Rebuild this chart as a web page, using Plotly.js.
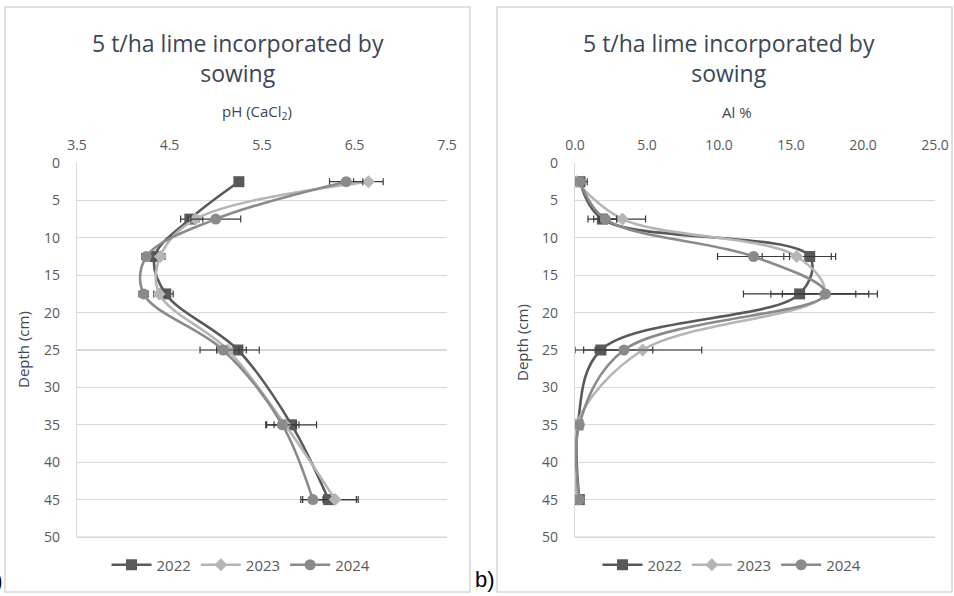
<!DOCTYPE html>
<html>
<head>
<meta charset="utf-8">
<script src="https://cdn.plot.ly/plotly-3.0.1.min.js"></script>
<style>
  html, body { margin: 0; padding: 0; background: #ffffff; }
  #chart { width: 954px; height: 596px; }
</style>
</head>
<body>
<div id="chart"></div>
<script>
// ---------- data ----------
const years = ["2022", "2023", "2024"];
const depths = [2.5, 7.5, 12.5, 17.5, 25, 35, 45];

const ph2022 = [5.25, 4.72, 4.34, 4.46, 5.24, 5.82, 6.22];
const ph2023 = [6.65, 4.78, 4.40, 4.39, 5.13, 5.75, 6.29];
const ph2024 = [6.41, 5.00, 4.25, 4.22, 5.08, 5.72, 6.05];
const ph2022Err = [0.0, 0.10, 0.05, 0.08, 0.23, 0.27, 0.30];
const ph2023Err = [0.16, 0.08, 0.05, 0.06, 0.12, 0.12, 0.25];
const ph2024Err = [0.18, 0.27, 0.05, 0.05, 0.25, 0.18, 0.11];

const al2022 = [0.35, 1.9, 16.3, 15.6, 1.8, 0.2, 0.3];
const al2023 = [0.1, 3.3, 15.4, 17.3, 4.7, 0.1, 0.2];
const al2024 = [0.35, 2.1, 12.4, 17.4, 3.4, 0.3, 0.3];
const al2022Err = [0.5, 1.0, 1.8, 3.9, 1.8, 0.0, 0.0];
const al2023Err = [0.2, 1.6, 2.4, 3.7, 4.1, 0.0, 0.0];
const al2024Err = [0.3, 0.8, 2.5, 3.0, 2.0, 0.0, 0.0];

const phTicks = [3.5, 4.5, 5.5, 6.5, 7.5];
const alTicks = [0, 5, 10, 15, 20, 25];
const depthTicks = [0, 5, 10, 15, 20, 25, 30, 35, 40, 45, 50];

const titleText = "5 t/ha lime incorporated by<br>sowing";
const phTitle = "pH (CaCl<sub>2</sub>)";
const alTitle = "Al %";
const depthTitle = "Depth (cm)";

// ---------- styles ----------
const W = 954, H = 596;
const px = x => x / W;
const py = y => 1 - y / H;
const styles = {
  "2022": { color: "#595959", symbol: "square", size: 11 },
  "2023": { color: "#b5b5b5", symbol: "diamond", size: 10 },
  "2024": { color: "#8a8a8a", symbol: "circle", size: 11 }
};
const fontFam = "Open Sans, Noto Sans, sans-serif";
const tickColor = "#595959";
const titleColor = "#3b4656";
const gridColor = "#d9d9d9";

function mk(xvals, errs, year, xa, ya, leg) {
  const s = styles[year];
  return {
    type: "scatter", mode: "lines+markers",
    x: xvals, y: depths, name: year,
    xaxis: xa, yaxis: ya, legend: leg,
    line: { color: s.color, width: 2.6, shape: "spline", smoothing: 1 },
    marker: { color: s.color, symbol: s.symbol, size: s.size },
    error_x: { type: "data", array: errs, visible: true, color: "#3a3a3a", thickness: 1.2, width: 3.5 }
  };
}

const traces = [
  mk(ph2022, ph2022Err, "2022", "x", "y", "legend"),
  mk(ph2023, ph2023Err, "2023", "x", "y", "legend"),
  mk(ph2024, ph2024Err, "2024", "x", "y", "legend"),
  mk(al2022, al2022Err, "2022", "x2", "y2", "legend2"),
  mk(al2023, al2023Err, "2023", "x2", "y2", "legend2"),
  mk(al2024, al2024Err, "2024", "x2", "y2", "legend2")
];

function xAxis(domain, range, ticks) {
  return {
    domain: domain, range: range, side: "top", tickvals: ticks,
    ticktext: ticks.map(v => v.toFixed(1)),
    showgrid: false, zeroline: false, showline: false, ticks: "",
    tickfont: { family: fontFam, size: 14, color: tickColor },
    ticklabelstandoff: 9, fixedrange: true
  };
}
function yAxis(domain, anchor) {
  return {
    domain: domain, range: [50, 0], tickvals: depthTicks, anchor: anchor,
    showgrid: true, gridcolor: gridColor, gridwidth: 1.3, zeroline: false,
    showline: true, linecolor: gridColor, linewidth: 1.3, ticks: "",
    tickfont: { family: fontFam, size: 14, color: tickColor },
    ticklabelstandoff: 13, fixedrange: true
  };
}
// bottom frame line of each plot: an overlaying bottom axis that only draws its line
function bottomLine(over, anchor, domain, range) {
  return {
    overlaying: over, anchor: anchor, side: "bottom", domain: domain, range: range,
    showline: true, linecolor: "#d3d3d3", linewidth: 1.5,
    showgrid: false, zeroline: false, showticklabels: false, ticks: "", fixedrange: true
  };
}

const yDom = [py(537), py(163)];
const xDom1 = [px(77), px(447)];
const xDom2 = [px(575), px(935)];
const layout = {
  width: W, height: H,
  margin: { l: 0, r: 0, t: 0, b: 0 },
  paper_bgcolor: "#ffffff", plot_bgcolor: "#ffffff",
  showlegend: true,
  xaxis: Object.assign(xAxis(xDom1, [3.5, 7.5], phTicks), { anchor: "y" }),
  yaxis: yAxis(yDom, "x"),
  xaxis2: Object.assign(xAxis(xDom2, [0, 25], alTicks), { anchor: "y2" }),
  yaxis2: yAxis(yDom, "x2"),
  xaxis3: bottomLine("x", "y", xDom1, [3.5, 7.5]),
  xaxis4: bottomLine("x2", "y2", xDom2, [0, 25]),
  legend: {
    orientation: "h", x: px(241), y: py(565), xanchor: "center", yanchor: "middle",
    font: { family: fontFam, size: 15, color: tickColor }, bgcolor: "rgba(0,0,0,0)",
    itemwidth: 40, tracegroupgap: 0
  },
  legend2: {
    orientation: "h", x: px(732), y: py(565), xanchor: "center", yanchor: "middle",
    font: { family: fontFam, size: 15, color: tickColor }, bgcolor: "rgba(0,0,0,0)",
    itemwidth: 40
  },
  shapes: [
    { type: "rect", xref: "paper", yref: "paper", x0: px(5), x1: px(470), y0: py(592), y1: py(7), line: { color: "#d6d6d6", width: 1.5 } },
    { type: "rect", xref: "paper", yref: "paper", x0: px(497), x1: px(952), y0: py(592), y1: py(7), line: { color: "#d6d6d6", width: 1.5 } },
    { type: "rect", xref: "paper", yref: "paper", x0: px(77), x1: px(447), y0: py(538), y1: py(536.5), line: { width: 0 }, fillcolor: "#d3d3d3" },
    { type: "rect", xref: "paper", yref: "paper", x0: px(575), x1: px(935), y0: py(538), y1: py(536.5), line: { width: 0 }, fillcolor: "#d3d3d3" }
  ],
  annotations: [
    { text: titleText, xref: "paper", yref: "paper", x: px(238), y: py(58), xanchor: "center", yanchor: "middle", showarrow: false,
      font: { family: fontFam, size: 23, color: titleColor }, align: "center" },
    { text: titleText, xref: "paper", yref: "paper", x: px(729), y: py(58), xanchor: "center", yanchor: "middle", showarrow: false,
      font: { family: fontFam, size: 23, color: titleColor }, align: "center" },
    { text: phTitle, xref: "paper", yref: "paper", x: px(257), y: py(112), xanchor: "center", yanchor: "middle", showarrow: false,
      font: { family: fontFam, size: 15, color: titleColor } },
    { text: alTitle, xref: "paper", yref: "paper", x: px(737), y: py(112), xanchor: "center", yanchor: "middle", showarrow: false,
      font: { family: fontFam, size: 15, color: titleColor } },
    { text: depthTitle, xref: "paper", yref: "paper", x: px(23), y: py(350), xanchor: "center", yanchor: "middle", showarrow: false,
      textangle: -90, font: { family: fontFam, size: 15, color: titleColor } },
    { text: depthTitle, xref: "paper", yref: "paper", x: px(522), y: py(343), xanchor: "center", yanchor: "middle", showarrow: false,
      textangle: -90, font: { family: fontFam, size: 15, color: titleColor } },
    { text: "a)", xref: "paper", yref: "paper", x: px(5), y: py(580), xanchor: "right", yanchor: "middle", showarrow: false,
      font: { family: "Liberation Sans, Arial, sans-serif", size: 22, color: "#000000" } },
    { text: "b)", xref: "paper", yref: "paper", x: px(473), y: py(579), xanchor: "left", yanchor: "middle", showarrow: false,
      font: { family: "Liberation Sans, Arial, sans-serif", size: 22, color: "#000000" } }
  ]
};

Plotly.newPlot("chart", traces, layout, { displayModeBar: false, staticPlot: true });
</script>
</body>
</html>
